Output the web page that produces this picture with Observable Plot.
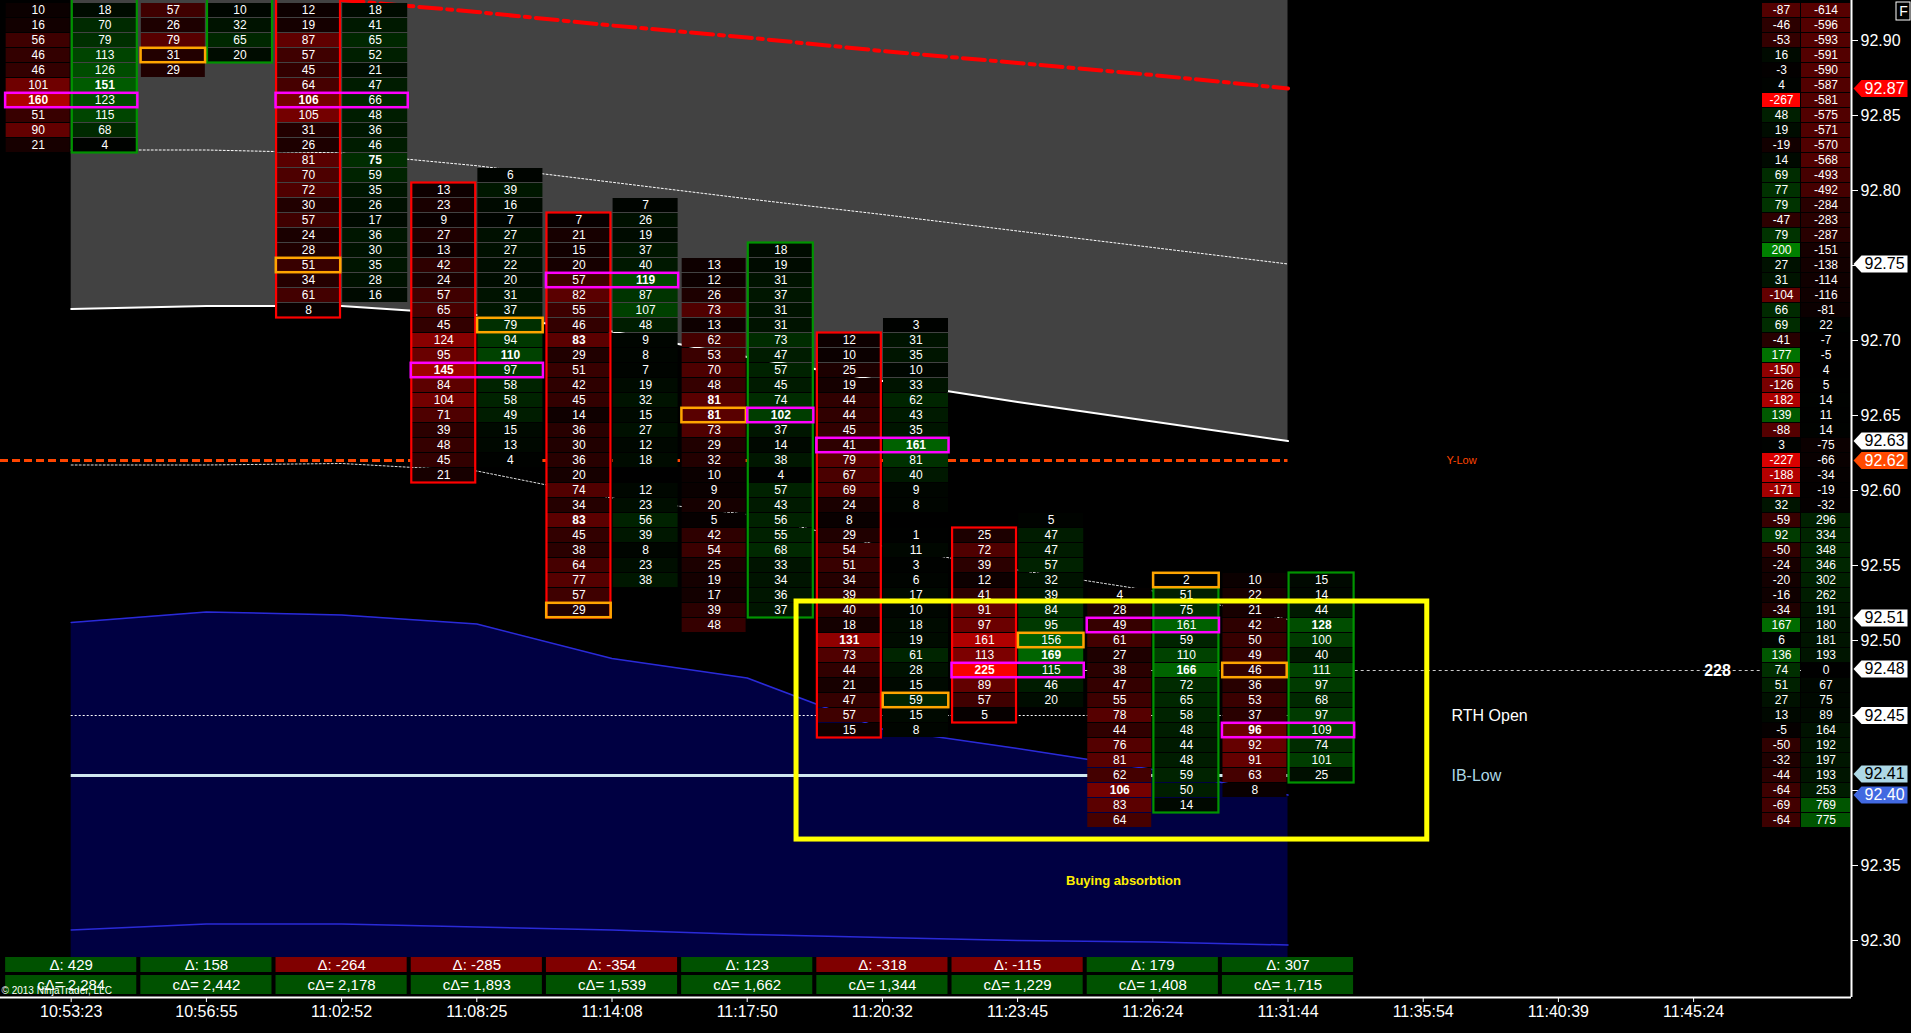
<!DOCTYPE html>
<html><head><meta charset="utf-8">
<script src="https://cdn.jsdelivr.net/npm/d3@7"></script>
<script src="https://cdn.jsdelivr.net/npm/@observablehq/plot@0.6"></script>
<style>html,body{margin:0;padding:0;background:#000;overflow:hidden}#chart{line-height:0}</style>
</head><body><div id="chart"></div>
<script>
// ---------------- DATA ----------------
const timeLabels = ["10:53:23","10:56:55","11:02:52","11:08:25","11:14:08","11:17:50","11:20:32","11:23:45","11:26:24","11:31:44","11:35:54","11:40:39","11:45:24"];
const deltas = [429,158,-264,-285,-354,123,-318,-115,179,307];
const cumDeltas = [2284,2442,2178,1893,1539,1662,1344,1229,1408,1715];

// bid (left) columns: top price of each column, then volumes going down one tick (0.01) each
const bidTops = [92.92,92.92,92.92,92.80,92.78,92.75,92.70,92.57,92.53,92.54];
const bidVolumes = [
  [10,16,56,46,46,101,160,51,90,21],
  [57,26,79,31,29],
  [12,19,87,57,45,64,106,105,31,26,81,70,72,30,57,24,28,51,34,61,8],
  [13,23,9,27,13,42,24,57,65,45,124,95,145,84,104,71,39,48,45,21],
  [7,21,15,20,57,82,55,46,83,29,51,42,45,14,36,30,36,20,74,34,83,45,38,64,77,57,29],
  [13,12,26,73,13,62,53,70,48,81,81,73,29,32,10,9,20,5,42,54,25,19,17,39,48],
  [12,10,25,19,44,44,45,41,79,67,69,24,8,29,54,51,34,39,40,18,131,73,44,21,47,57,15],
  [25,72,39,12,41,91,97,161,113,225,89,57,5],
  [4,28,49,61,27,38,47,55,78,44,76,81,62,106,83,64],
  [10,22,21,42,50,49,46,36,53,37,96,92,91,63,8]
];
// ask (right) columns
const askTops = [92.92,92.92,92.92,92.81,92.79,92.76,92.71,92.58,92.54,92.54];
const askVolumes = [
  [18,70,79,113,126,151,123,115,68,4],
  [10,32,65,20],
  [18,41,65,52,21,47,66,48,36,46,75,59,35,26,17,36,30,35,28,16],
  [6,39,16,7,27,27,22,20,31,37,79,94,110,97,58,58,49,15,13,4],
  [7,26,19,37,40,119,87,107,48,9,8,7,19,32,15,27,12,18,null,12,23,56,39,8,23,38],
  [18,19,31,37,31,31,73,47,57,45,74,102,37,14,38,4,57,43,56,55,68,33,34,36,37],
  [3,31,35,10,33,62,43,35,161,81,40,9,8,null,1,11,3,6,17,10,18,19,61,28,15,59,15,8],
  [5,47,47,57,32,39,84,95,156,169,115,46,20],
  [2,51,75,161,59,110,166,72,65,58,48,44,48,59,50,14],
  [15,14,44,128,100,40,111,97,68,97,109,74,101,25]
];
// bars whose column maximum lies above the visible range (no bold cell shown)
const offscreenMaxBars = [1];
// point-of-control (magenta) boxes
const pocPrices = [92.86,null,92.86,92.68,92.74,92.65,92.63,92.48,92.51,92.44];
const pocSides  = ["both",null,"both","both","both","ask","both","both","both","both"];
// orange highlight cells
const orangeBars   = [1,2,3,4,5,6,7,8,9];
const orangeSides  = ["bid","bid","ask","bid","bid","ask","ask","ask","bid"];
const orangePrices = [92.89,92.75,92.71,92.52,92.65,92.46,92.50,92.54,92.48];
// candle body outline
const bodyHighs = [92.935,92.935,92.935,92.80,92.78,92.76,92.70,92.57,92.53,92.54];
const bodyLows  = [92.83,92.89,92.72,92.61,92.52,92.52,92.44,92.45,92.39,92.41];
const bodySides = ["ask","ask","bid","bid","bid","ask","bid","bid","ask","ask"];

// right-hand price ladder (delta per price, cumulative)
const ladderTop = 92.92;
const ladderDelta = [-87,-46,-53,16,-3,4,-267,48,19,-19,14,69,77,79,-47,79,200,27,31,-104,66,69,-41,177,-150,-126,-182,139,-88,3,-227,-188,-171,32,-59,92,-50,-24,-20,-16,-34,167,6,136,74,51,27,13,-5,-50,-32,-44,-64,-69,-64];
const ladderCum = [-614,-596,-593,-591,-590,-587,-581,-575,-571,-570,-568,-493,-492,-284,-283,-287,-151,-138,-114,-116,-81,22,-7,-5,4,5,14,11,14,-75,-66,-34,-19,-32,296,334,348,346,302,262,191,180,181,193,0,67,75,89,164,192,197,193,253,769,775];

// price axis
const priceTicks = [92.30,92.35,92.40,92.45,92.50,92.55,92.60,92.65,92.70,92.75,92.80,92.85,92.90];
const tagPrices = [92.868,92.751,92.633,92.62,92.515,92.481,92.45,92.411,92.397];
const tagLabels = ["92.87","92.75","92.63","92.62","92.51","92.48","92.45","92.41","92.40"];
const tagFills  = ["#ff0000","#ffffff","#ffffff","#ff4a00","#ffffff","#ffffff","#ffffff","#add8e6","#4169e1"];
const tagText   = ["#ffffff","#000000","#000000","#ffffff","#000000","#000000","#000000","#000000","#ffffff"];

// indicator lines per bar index
const bandIdx    = [0,1,2,3,4,5,6,7,8,9];
const grayLower  = [92.721,92.723,92.723,92.717,92.706,92.689,92.673,92.659,92.646,92.633];
const grayDotted = [92.827,92.827,92.825,92.8165,92.8055,92.7945,92.784,92.773,92.762,92.751];
const vwapLine   = [92.617,92.617,92.618,92.613,92.595,92.584,92.563,92.547,92.533,92.514];
const navyUpper  = [92.512,92.519,92.517,92.511,92.488,92.475,92.441,92.428,92.414,92.397];
const navyLower  = [92.307,92.311,92.311,92.309,92.307,92.304,92.302,92.300,92.299,92.297];
const redIdx     = [2,3,4,5,6,7,8,9];
const redBand    = [92.927,92.919,92.910,92.902,92.893,92.885,92.877,92.868];
const yLow = 92.62, rthOpen = 92.45, ibLow = 92.41, volLevel = 92.48, volLabel = "228";
const absorbBox = {x1: 5.365, x2: 10.03, y1: 92.3673, y2: 92.526};

// ---------------- LAYOUT ----------------
const W = 1911, H = 1033, MR = 60, MB = 36;
const X0 = 70.7, XS = 135.2, P0 = 92.90, Y0 = 40, YS = 1500;
const px2x = px => (px - X0) / XS;
const py2y = py => P0 - (py - Y0) / YS;
const XMIN = px2x(0), XMAX = px2x(W - MR);
const YMIN = py2y(H - MB), YMAX = py2y(0);
const PANE_BOTTOM = py2y(957);
const COL = {bid: [-0.481, -0.008], ask: [0.008, 0.489]};
const r2 = v => Math.round(v * 100) / 100;

// build cells
const cells = [];
function addCells(tops, vols, side) {
  vols.forEach((arr, b) => {
    const mx = offscreenMaxBars.includes(b) ? Infinity : d3.max(arr);
    arr.forEach((v, k) => {
      if (v == null) return;
      cells.push({bar: b, side, price: r2(tops[b] - k * 0.01), v, bold: v === mx});
    });
  });
}
addCells(bidTops, bidVolumes, "bid");
addCells(askTops, askVolumes, "ask");
const cellFill = d => d.side === "bid"
  ? `rgb(${Math.min(255, Math.round(d.v * 1.1))},0,0)`
  : `rgb(0,${Math.min(255, Math.round(d.v * 0.6))},0)`;

const bands = bandIdx.map((i, k) => ({i, gl: grayLower[k], gd: grayDotted[k], vw: vwapLine[k], nu: navyUpper[k], nl: navyLower[k]}));
const reds = redIdx.map((i, k) => ({i, v: redBand[k]}));

const pocs = pocPrices.map((p, b) => ({b, p, s: pocSides[b]})).filter(d => d.p != null);
const oranges = orangeBars.map((b, k) => ({b, p: orangePrices[k], s: orangeSides[k]}));
const bodies = bodyHighs.map((h, b) => ({b, h, l: bodyLows[b], s: bodySides[b], c: deltas[b] >= 0 ? "#009400" : "#ff0000"}));

const ladder = ladderDelta.map((v, k) => ({p: r2(ladderTop - k * 0.01), v, c: ladderCum[k]}));
const dFill = v => v < 0 ? `rgb(${Math.min(255, Math.round(-v * 0.955))},0,0)` : `rgb(0,${Math.min(255, Math.round(v * 0.64))},0)`;
const cFill = v => v < 0 ? `rgb(${Math.min(255, Math.round(-v * 0.14))},0,0)` : `rgb(0,${Math.min(255, Math.round(v * 0.11))},0)`;

const tags = tagPrices.map((p, k) => ({p, label: tagLabels[k], fill: tagFills[k], tc: tagText[k]}));
const tagSymbol = {draw(ctx) { ctx.moveTo(-27, 0); ctx.lineTo(-19, -8.5); ctx.lineTo(27, -8.5); ctx.lineTo(27, 8.5); ctx.lineTo(-19, 8.5); ctx.closePath(); }};
// tick labels hidden under a price tag are not drawn
const coveredTick = t => tagPrices.some(p => Math.abs(p - t) < 0.012);
const labelTicks = priceTicks.filter(t => !coveredTick(t));

const barsD = deltas.map((d, i) => ({i, d, c: cumDeltas[i]}));
const fmt = d3.format(",");

const LX1 = px2x(1762), LX2 = px2x(1800), LX3 = px2x(1801), LX4 = px2x(1850);

const chart = Plot.plot({
  width: W, height: H,
  marginTop: 0, marginLeft: 0, marginRight: MR, marginBottom: MB,
  x: {domain: [XMIN, XMAX]},
  y: {domain: [YMIN, YMAX]},
  color: {type: "identity"},
  style: {background: "#000", color: "#fff", fontFamily: "'Liberation Sans', Arial, sans-serif", fontSize: "12px", overflow: "visible"},
  marks: [
    // background bands
    Plot.areaY(bands, {x: "i", y1: "gl", y2: YMAX, fill: "#424242"}),
    Plot.areaY(bands, {x: "i", y1: PANE_BOTTOM, y2: "nu", fill: "#000042"}),
    Plot.line(bands, {x: "i", y: "gl", stroke: "#ffffff", strokeWidth: 2}),
    Plot.line(bands, {x: "i", y: "gd", stroke: "#ffffff", strokeWidth: 1, strokeDasharray: "2,2"}),
    Plot.line(reds, {x: "i", y: "v", stroke: "#ff0000", strokeWidth: 4, strokeDasharray: "22,6,5,6", clip: true}),
    Plot.line(bands, {x: "i", y: "vw", stroke: "#dddddd", strokeWidth: 1, strokeDasharray: "2,2"}),
    Plot.line(bands, {x: "i", y: "nu", stroke: "#2a2ad8", strokeWidth: 1.5}),
    Plot.line(bands, {x: "i", y: "nl", stroke: "#2a2ad8", strokeWidth: 1.5}),
    Plot.ruleY([yLow], {x1: XMIN, x2: 9, stroke: "#ff4500", strokeWidth: 3, strokeDasharray: "8,4"}),
    Plot.ruleY([rthOpen], {x1: 0, x2: 9, stroke: "#ffffff", strokeWidth: 1, strokeDasharray: "2,2"}),
    Plot.ruleY([ibLow], {x1: 0, x2: 9, stroke: "#d0e8f0", strokeWidth: 3}),
    Plot.ruleY([volLevel], {x1: 7.5, x2: XMAX, stroke: "#cccccc", strokeWidth: 1, strokeDasharray: "3,3"}),

    // footprint cells
    Plot.rect(cells, {
      x1: d => d.bar + COL[d.side][0], x2: d => d.bar + COL[d.side][1],
      y1: d => d.price - 0.005, y2: d => d.price + 0.005,
      insetTop: 0.5, insetBottom: 0.5, fill: cellFill
    }),
    Plot.text(cells.filter(d => !d.bold), {
      x: d => d.bar + (COL[d.side][0] + COL[d.side][1]) / 2, y: "price",
      text: d => String(d.v), fill: "#ffffff", fontSize: 12
    }),
    Plot.text(cells.filter(d => d.bold), {
      x: d => d.bar + (COL[d.side][0] + COL[d.side][1]) / 2, y: "price",
      text: d => String(d.v), fill: "#ffffff", fontSize: 12, fontWeight: "bold"
    }),
    // body outlines
    Plot.rect(bodies, {
      x1: d => d.b + COL[d.s][0], x2: d => d.b + COL[d.s][1],
      y1: d => d.l - 0.005, y2: d => d.h + 0.005,
      fill: "none", stroke: "c", strokeWidth: 2.2
    }),
    // orange boxes
    Plot.rect(oranges, {
      x1: d => d.b + COL[d.s][0] - 0.002, x2: d => d.b + COL[d.s][1] + 0.002,
      y1: d => d.p - 0.0048, y2: d => d.p + 0.0048,
      fill: "none", stroke: "#ffa500", strokeWidth: 2.5
    }),
    // magenta boxes
    Plot.rect(pocs, {
      x1: d => d.b + (d.s === "both" ? COL.bid[0] : COL.ask[0]) - 0.004, x2: d => d.b + COL.ask[1] + 0.004,
      y1: d => d.p - 0.0048, y2: d => d.p + 0.0048,
      fill: "none", stroke: "#ff00ff", strokeWidth: 2.5
    }),

    // annotation box
    Plot.rect([absorbBox], {x1: "x1", x2: "x2", y1: "y1", y2: "y2", fill: "none", stroke: "#ffff00", strokeWidth: 5}),
    Plot.text(["Buying absorbtion"], {x: 7.783, y: 92.34, text: d => d, fill: "#ffee00", fontSize: 13, fontWeight: "bold"}),
    Plot.text(["Y-Low"], {x: px2x(1461), y: yLow, text: d => d, fill: "#ff4500", fontSize: 11}),
    Plot.text(["RTH Open"], {x: px2x(1451), y: rthOpen, text: d => d, fill: "#ffffff", fontSize: 16, textAnchor: "start"}),
    Plot.text(["IB-Low"], {x: px2x(1451), y: ibLow, text: d => d, fill: "#add8e6", fontSize: 16, textAnchor: "start"}),
    Plot.text([volLabel], {x: px2x(1717), y: volLevel, text: d => d, fill: "#ffffff", fontSize: 16, fontWeight: "bold"}),

    // right ladder
    Plot.rect(ladder, {x1: LX1, x2: LX2, y1: d => d.p - 0.005, y2: d => d.p + 0.005, insetTop: 0.5, insetBottom: 0.5, fill: d => dFill(d.v)}),
    Plot.rect(ladder, {x1: LX3, x2: LX4, y1: d => d.p - 0.005, y2: d => d.p + 0.005, insetTop: 0.5, insetBottom: 0.5, fill: d => cFill(d.c)}),
    Plot.text(ladder, {x: (LX1 + LX2) / 2, y: "p", text: d => String(d.v), fill: "#ffffff", fontSize: 12}),
    Plot.text(ladder, {x: (LX3 + LX4) / 2, y: "p", text: d => String(d.c), fill: "#ffffff", fontSize: 12}),

    // delta boxes
    Plot.rect(barsD, {x1: d => d.i - 0.485, x2: d => d.i + 0.485, y1: py2y(972), y2: py2y(957), fill: d => d.d >= 0 ? "#005200" : "#800000"}),
    Plot.rect(barsD, {x1: d => d.i - 0.485, x2: d => d.i + 0.485, y1: py2y(994), y2: py2y(975), fill: d => d.c >= 0 ? "#005200" : "#800000"}),
    Plot.text(barsD, {x: "i", y: py2y(964.5), text: d => "Δ: " + String(d.d), fill: "#ffffff", fontSize: 15}),
    Plot.text(barsD, {x: "i", y: py2y(984.5), text: d => "cΔ= " + fmt(d.c), fill: "#ffffff", fontSize: 15}),
    Plot.text(["© 2013 NinjaTrader, LLC"], {x: px2x(1), y: py2y(990), text: d => d, fill: "#ffffff", fontSize: 10, textAnchor: "start"}),

    // axes
    Plot.ruleX([XMAX], {stroke: "#ffffff", strokeWidth: 2}),
    Plot.ruleY([YMIN], {stroke: "#ffffff", strokeWidth: 2}),
    Plot.axisY({anchor: "right", ticks: priceTicks, tickSize: 6, text: null, label: null}),
    Plot.axisY({anchor: "right", ticks: labelTicks, tickFormat: d => d.toFixed(2), tickSize: 6, tickPadding: 3, fontSize: 16, label: null}),
    Plot.axisX({ticks: d3.range(timeLabels.length), tickFormat: i => timeLabels[i], tickSize: 5, tickPadding: 3, fontSize: 16, label: null}),

    // price tags
    Plot.dot(tags, {x: px2x(1880), y: "p", symbol: tagSymbol, r: 5, fill: "fill", stroke: "none"}),
    Plot.text(tags, {x: px2x(1884), y: "p", text: "label", fill: "tc", fontSize: 16}),

    // F box
    Plot.rect([0], {x1: px2x(1896), x2: px2x(1910), y1: py2y(20), y2: py2y(2), fill: "#000", stroke: "#ffffff", strokeWidth: 1}),
    Plot.text(["F"], {x: px2x(1903), y: py2y(11.5), text: d => d, fill: "#ffffff", fontSize: 14})
  ]
});
document.getElementById("chart").appendChild(chart);
</script>
</body></html>
